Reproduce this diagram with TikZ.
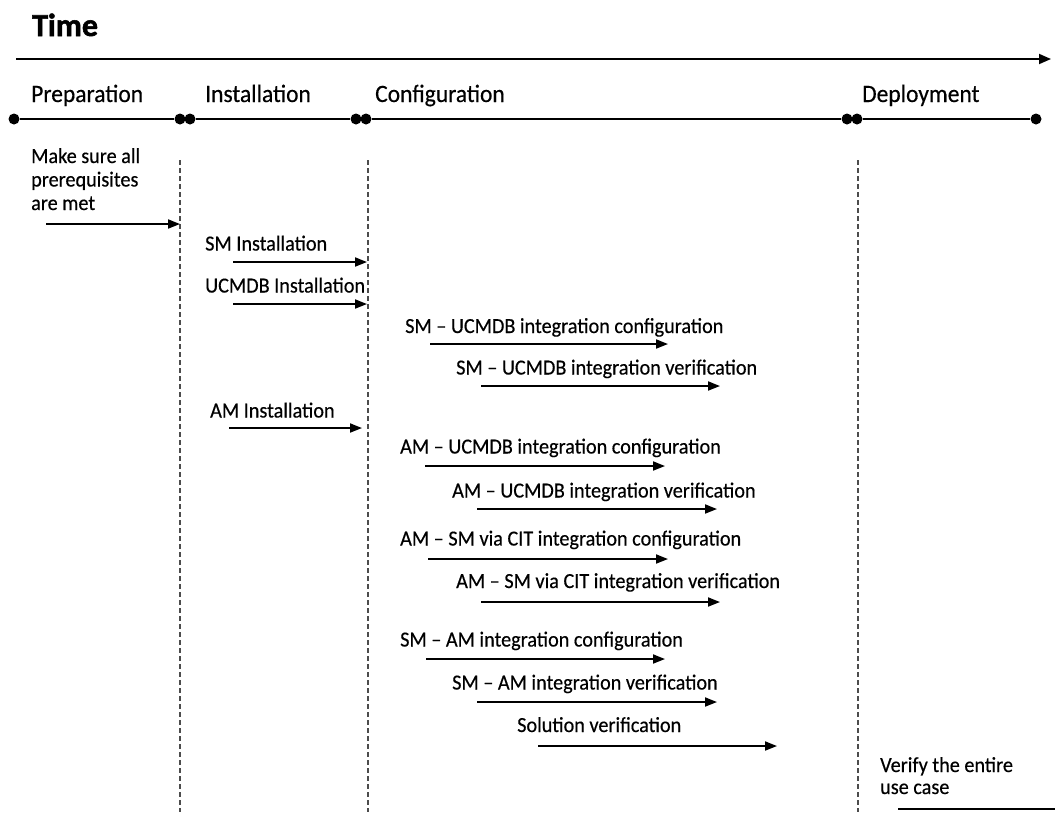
\documentclass[tikz,border=0pt]{standalone}
\usepackage{fontspec}
\setmainfont{Carlito}[FakeStretch=0.94,FakeBold=0.4]
\newfontfamily\titlefont{Carlito Bold}[FakeBold=1.6]
\usetikzlibrary{arrows.meta}
\begin{document}
\begin{tikzpicture}[x=1pt,y=-1pt,
  lbl/.style={anchor=base west,inner sep=0pt,font=\fontsize{21.5}{23.5}\selectfont},
  phase/.style={anchor=base west,inner sep=0pt,font=\fontsize{25}{28}\selectfont},
  task/.style={line width=1.8pt,-{Triangle[length=12pt,width=9pt]}},
  dot/.style={circle,fill=black,inner sep=0pt,minimum size=11pt},
  sep/.style={line width=1.1pt,dash pattern=on 5pt off 3pt,black!70}]
\useasboundingbox (0,0) rectangle (1055,812);
% title
\node[anchor=base west,inner sep=0pt,font=\fontsize{32}{34}\titlefont] (time) at (32,36) {Time};
\coordinate (t0) at (16,59);
\coordinate (t1) at (1051,59);
\draw[line width=1.8pt,-{Triangle[length=12pt,width=10pt]}] (t0) -- (t1);
% phases
\node[phase] (p1) at (31,102) {Preparation};
\node[phase] (p2) at (205,102) {Installation};
\node[phase] (p3) at (375,102) {Configuration};
\node[phase] (p4) at (862,102) {Deployment};
\node[dot] (d1) at (14,119) {};
\node[dot] (d2) at (180,119) {};
\node[dot] (d3) at (190,119) {};
\node[dot] (d4) at (356,119) {};
\node[dot] (d5) at (366,119) {};
\node[dot] (d6) at (847,119) {};
\node[dot] (d7) at (857,119) {};
\node[dot] (d8) at (1036,119) {};
\draw[line width=2pt] (d1) -- (d2) (d3) -- (d4) (d5) -- (d6) (d7) -- (d8);
% separators
\coordinate (s1t) at (180,160); \coordinate (s1b) at (180,812);
\coordinate (s2t) at (368,160); \coordinate (s2b) at (368,812);
\coordinate (s3t) at (858,160); \coordinate (s3b) at (858,812);
\draw[sep] (s1t) -- (s1b);
\draw[sep] (s2t) -- (s2b);
\draw[sep] (s3t) -- (s3b);
% tasks
\node[lbl] (prep1) at (31,163) {Make sure all};
\node[lbl] (prep2) at (31,186.5) {prerequisites};
\node[lbl] (prep3) at (31,210) {are met};
\coordinate (a1s) at (46,224); \coordinate (a1e) at (180,224);
\draw[task] (a1s) -- (a1e);

\node[lbl] (smi) at (205,250.5) {SM Installation};
\coordinate (a2s) at (233,262); \coordinate (a2e) at (367,262);
\draw[task] (a2s) -- (a2e);

\node[lbl] (ucmdbi) at (205,292.5) {UCMDB Installation};
\coordinate (a3s) at (233,304); \coordinate (a3e) at (367,304);
\draw[task] (a3s) -- (a3e);

\node[lbl] (smuc) at (405,333) {SM -- UCMDB integration configuration};
\coordinate (a4s) at (430,344); \coordinate (a4e) at (668,344);
\draw[task] (a4s) -- (a4e);

\node[lbl] (smuv) at (456,374.5) {SM -- UCMDB integration verification};
\coordinate (a5s) at (481,386); \coordinate (a5e) at (720,386);
\draw[task] (a5s) -- (a5e);

\node[lbl] (ami) at (210,417.5) {AM Installation};
\coordinate (a6s) at (229,428); \coordinate (a6e) at (362,428);
\draw[task] (a6s) -- (a6e);

\node[lbl] (amuc) at (400,453.5) {AM -- UCMDB integration configuration};
\coordinate (a7s) at (425,466); \coordinate (a7e) at (665,466);
\draw[task] (a7s) -- (a7e);

\node[lbl] (amuv) at (452,497.5) {AM -- UCMDB integration verification};
\coordinate (a8s) at (477,509); \coordinate (a8e) at (717,509);
\draw[task] (a8s) -- (a8e);

\node[lbl] (amsc) at (400,545.5) {AM -- SM via CIT integration configuration};
\coordinate (a9s) at (428,559); \coordinate (a9e) at (668,559);
\draw[task] (a9s) -- (a9e);

\node[lbl] (amsv) at (456,588) {AM -- SM via CIT integration verification};
\coordinate (a10s) at (481,602); \coordinate (a10e) at (720,602);
\draw[task] (a10s) -- (a10e);

\node[lbl] (smac) at (400,646.5) {SM -- AM integration configuration};
\coordinate (a11s) at (426,659); \coordinate (a11e) at (665,659);
\draw[task] (a11s) -- (a11e);

\node[lbl] (smav) at (452,689.5) {SM -- AM integration verification};
\coordinate (a12s) at (477,702); \coordinate (a12e) at (717,702);
\draw[task] (a12s) -- (a12e);

\node[lbl] (solv) at (517,732) {Solution verification};
\coordinate (a13s) at (538,746); \coordinate (a13e) at (777,746);
\draw[task] (a13s) -- (a13e);

\node[lbl] (verify1) at (880,772) {Verify the entire};
\node[lbl] (verify2) at (880,794) {use case};
\coordinate (a14s) at (898,809); \coordinate (a14e) at (1070,809);
\draw[line width=1.8pt] (a14s) -- (a14e);
\end{tikzpicture}
\end{document}
